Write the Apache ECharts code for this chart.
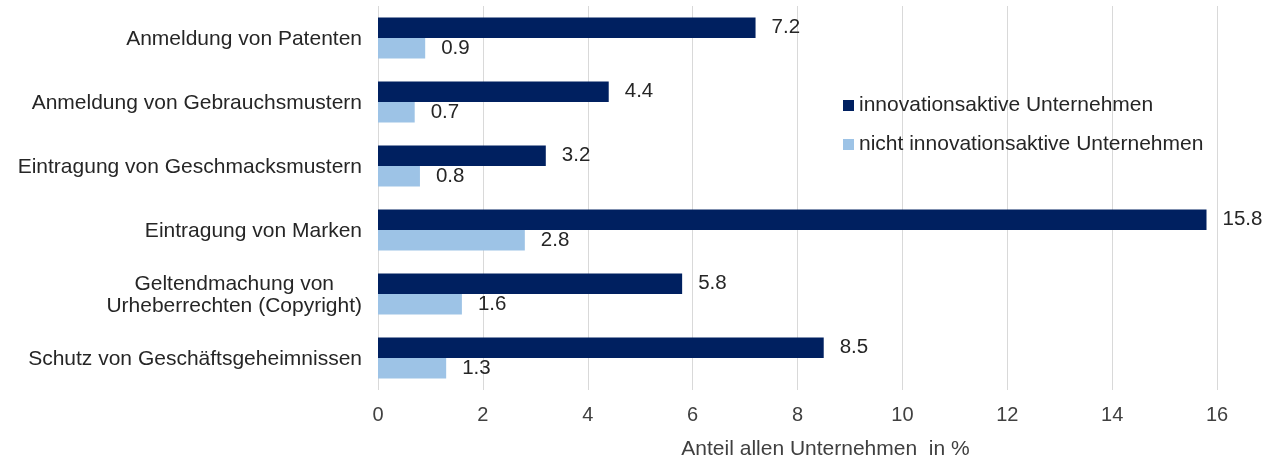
<!DOCTYPE html>
<html><head><meta charset="utf-8">
<script src="https://cdn.jsdelivr.net/npm/echarts@6/dist/echarts.min.js"></script>
<style>html,body{margin:0;padding:0;background:#fff}#c{width:1265px;height:461px}</style>
</head><body><div id="c"></div>
<script>
const categories = [
  "Anmeldung von Patenten",
  "Anmeldung von Gebrauchsmustern",
  "Eintragung von Geschmacksmustern",
  "Eintragung von Marken",
  "Geltendmachung von\nUrheberrechten (Copyright)",
  "Schutz von Geschäftsgeheimnissen"
];
const seriesNames = ["innovationsaktive Unternehmen", "nicht innovationsaktive Unternehmen"];
const innovActive = [7.2, 4.4, 3.2, 15.8, 5.8, 8.5];
const notInnovActive = [0.9, 0.7, 0.8, 2.8, 1.6, 1.3];
const xTicks = [0, 2, 4, 6, 8, 10, 12, 14, 16];

const font = "'Liberation Sans', Arial, sans-serif";
const chart = echarts.init(document.getElementById('c'), null, {renderer: 'canvas'});
chart.setOption({
  animation: false,
  textStyle: {fontFamily: font},
  legend: {
    orient: 'vertical', left: 838, top: 90, itemGap: 18,
    itemWidth: 11, itemHeight: 11, icon: 'rect',
    textStyle: {fontSize: 21, color: '#262626', fontFamily: font},
    data: seriesNames
  },
  grid: {left: 378, right: 48, top: 6, bottom: 71, containLabel: false, outerBoundsMode: 'none'},
  xAxis: {
    type: 'value', min: xTicks[0], max: xTicks[xTicks.length - 1], interval: 2,
    axisLine: {show: false}, axisTick: {show: false},
    splitLine: {lineStyle: {color: '#d9d9d9', width: 1}},
    axisLabel: {fontSize: 20, color: '#404040', margin: 15, fontFamily: font},
    name: 'Anteil allen Unternehmen  in %', nameLocation: 'middle', nameGap: 49,
    nameTextStyle: {fontSize: 21, color: '#404040', fontFamily: font, padding: [0, 0, 0, 56]}
  },
  yAxis: {
    type: 'category', inverse: true, data: categories,
    axisLine: {show: false}, axisTick: {show: false},
    axisLabel: {
      fontSize: 21, color: '#262626', margin: 16, fontFamily: font, lineHeight: 22,
      padding: [3, 0, 0, 0],
      formatter: v => v.indexOf('\n') >= 0 ? v.split('\n').map(s => '{c|' + s + '}').join('\n') : v,
      rich: {c: {align: 'center', fontSize: 21, color: '#262626', fontFamily: font, lineHeight: 22}}
    }
  },
  series: [
    {
      name: seriesNames[0], type: 'bar', data: innovActive,
      barGap: '0%', barCategoryGap: '36%',
      itemStyle: {color: '#002060'},
      label: {show: true, position: 'right', distance: 16, fontSize: 20.5, color: '#262626', fontFamily: font, formatter: p => p.value.toFixed(1)}
    },
    {
      name: seriesNames[1], type: 'bar', data: notInnovActive,
      barGap: '0%', barCategoryGap: '36%',
      itemStyle: {color: '#9dc3e6'},
      label: {show: true, position: 'right', distance: 16, fontSize: 20.5, color: '#262626', fontFamily: font, formatter: p => p.value.toFixed(1)}
    }
  ]
});
</script></body></html>
